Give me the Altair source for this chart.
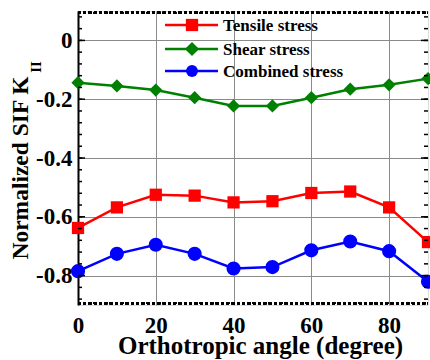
import altair as alt
import numpy as np
import pandas as pd

# Orthotropic angle (degrees) and normalized mode-II SIF for each load case
angles = [0, 10, 20, 30, 40, 50, 60, 70, 80, 90]
tensile = [-0.638, -0.568, -0.525, -0.528, -0.551, -0.547, -0.519, -0.514, -0.568, -0.686]
shear = [-0.144, -0.155, -0.169, -0.195, -0.223, -0.223, -0.195, -0.166, -0.151, -0.130]
combined = [-0.785, -0.726, -0.695, -0.726, -0.776, -0.771, -0.714, -0.684, -0.717, -0.821]

series_names = ["Tensile stress", "Shear stress", "Combined stress"]
series_colors = ["#ff0000", "#008000", "#0000ff"]
series_shapes = ["square", "diamond", "circle"]
series_sizes = [150, 200, 140]

x_ticks = [0, 20, 40, 60, 80]
y_ticks = [0, -0.2, -0.4, -0.6, -0.8]

W, H = 350, 294
FONT = "Liberation Serif"

rows = []
for name, vals in zip(series_names, [tensile, shear, combined]):
    for a, v in zip(angles, vals):
        rows.append({"angle": a, "sif": v, "load": name})
df = pd.DataFrame(rows)

x_scale = alt.Scale(domain=[0, 90], nice=False)
y_scale = alt.Scale(domain=[-0.9, 0.1], nice=False)

x_axis = alt.Axis(
    values=x_ticks, title="Orthotropic angle (degree)", grid=True,
    gridColor="#8a8a8a", gridWidth=1, ticks=False, domain=False,
    labelFont=FONT, labelFontSize=23, labelFontWeight="bold", labelColor="black",
    labelPadding=9, labelFlush=False, labelOverlap=False,
    titleFont=FONT, titleFontSize=25, titleFontWeight="bold",
    titleColor="black", titleAnchor="middle", titleX=182,
    titleY=48, titleBaseline="alphabetic",
)
y_axis = alt.Axis(
    values=y_ticks, title=None, grid=True, gridColor="#8a8a8a", gridWidth=1,
    ticks=False, domain=True, domainColor="black", domainWidth=2,
    labelFont=FONT, labelFontSize=23, labelFontWeight="bold", labelColor="black",
    labelPadding=6, labelFlush=False, labelOverlap=False,
    labelExpr="datum.value == 0 ? '0' : '-' + format(abs(datum.value), '.1f')",
)

color_scale = alt.Scale(domain=series_names, range=series_colors)
shape_scale = alt.Scale(domain=series_names, range=series_shapes)
size_scale = alt.Scale(domain=series_names, range=series_sizes)

base = alt.Chart(df).encode(
    x=alt.X("angle:Q", scale=x_scale, axis=x_axis),
    y=alt.Y("sif:Q", scale=y_scale, axis=y_axis),
    color=alt.Color("load:N", scale=color_scale, legend=None),
)
lines = base.mark_line(strokeWidth=2.5).encode(detail="load:N")
points = base.mark_point(filled=True, opacity=1).encode(
    shape=alt.Shape("load:N", scale=shape_scale, legend=None),
    size=alt.Size("load:N", scale=size_scale, legend=None),
)

# Inward frame ticks on the left and right edges
minor_vals = [round(v, 2) for v in np.arange(-0.88, 0.1, 0.04)]
tick_df = pd.DataFrame({"v": minor_vals})
major_df = pd.DataFrame({"v": y_ticks})
tick_layers = []
for d, ln in [(tick_df, 4), (major_df, 7)]:
    tc = alt.Chart(d)
    tick_layers.append(tc.mark_rule(color="black", strokeWidth=1.5).encode(
        y=alt.Y("v:Q", scale=y_scale), x=alt.value(0), x2=alt.value(ln)))
    tick_layers.append(tc.mark_rule(color="black", strokeWidth=1.5).encode(
        y=alt.Y("v:Q", scale=y_scale), x=alt.value(W), x2=alt.value(W - ln)))

# Dotted inner edges along top and bottom
edge_layers = []
for yy in [1.8, H - 1.8]:
    edge_layers.append(alt.Chart(df).mark_rule(
        color="black", strokeWidth=2, strokeDash=[2.7, 2.6]).encode(
        x=alt.value(0), x2=alt.value(W), y=alt.value(yy)))

# Legend drawn inside the plot: line + marker + label
legend_layers = []
legend_rows = [14, 38, 60]
for name, col, shp, sz, ly in zip(series_names, series_colors, series_shapes, series_sizes, legend_rows):
    one = alt.Chart(pd.DataFrame({"label": [name]}))
    legend_layers.append(one.mark_rule(color=col, strokeWidth=2.5).encode(
        x=alt.value(87), x2=alt.value(140), y=alt.value(ly)))
    legend_layers.append(one.mark_point(filled=True, opacity=1, color=col, shape=shp, size=sz).encode(
        x=alt.value(114), y=alt.value(ly)))
    legend_layers.append(one.mark_text(
        align="left", baseline="middle", font=FONT, fontSize=17, fontWeight="bold",
        color="black").encode(x=alt.value(145), y=alt.value(ly + 1), text="label:N"))

# Y title with subscript
ytitle = alt.Chart(pd.DataFrame({"t": ["Normalized SIF K"]})).mark_text(
    angle=270, align="center", baseline="alphabetic", font=FONT, fontSize=23.5,
    fontWeight="bold", color="black").encode(
    x=alt.value(-50), y=alt.value(157), text="t:N")
ysub = alt.Chart(pd.DataFrame({"t": ["II"]})).mark_text(
    angle=270, align="center", baseline="alphabetic", font=FONT, fontSize=15,
    fontWeight="bold", color="black").encode(
    x=alt.value(-37), y=alt.value(56), text="t:N")

chart = alt.layer(
    lines, points, *tick_layers, *edge_layers, *legend_layers, ytitle, ysub
).properties(
    width=W, height=H,
    autosize=alt.AutoSizeParams(type="none"),
    padding={"left": 78, "top": 11, "right": 2, "bottom": 55},
).configure_view(stroke="black", strokeWidth=1.5).configure(background="white")

chart.save("out.html", embed_options={"renderer": "svg", "actions": False})
